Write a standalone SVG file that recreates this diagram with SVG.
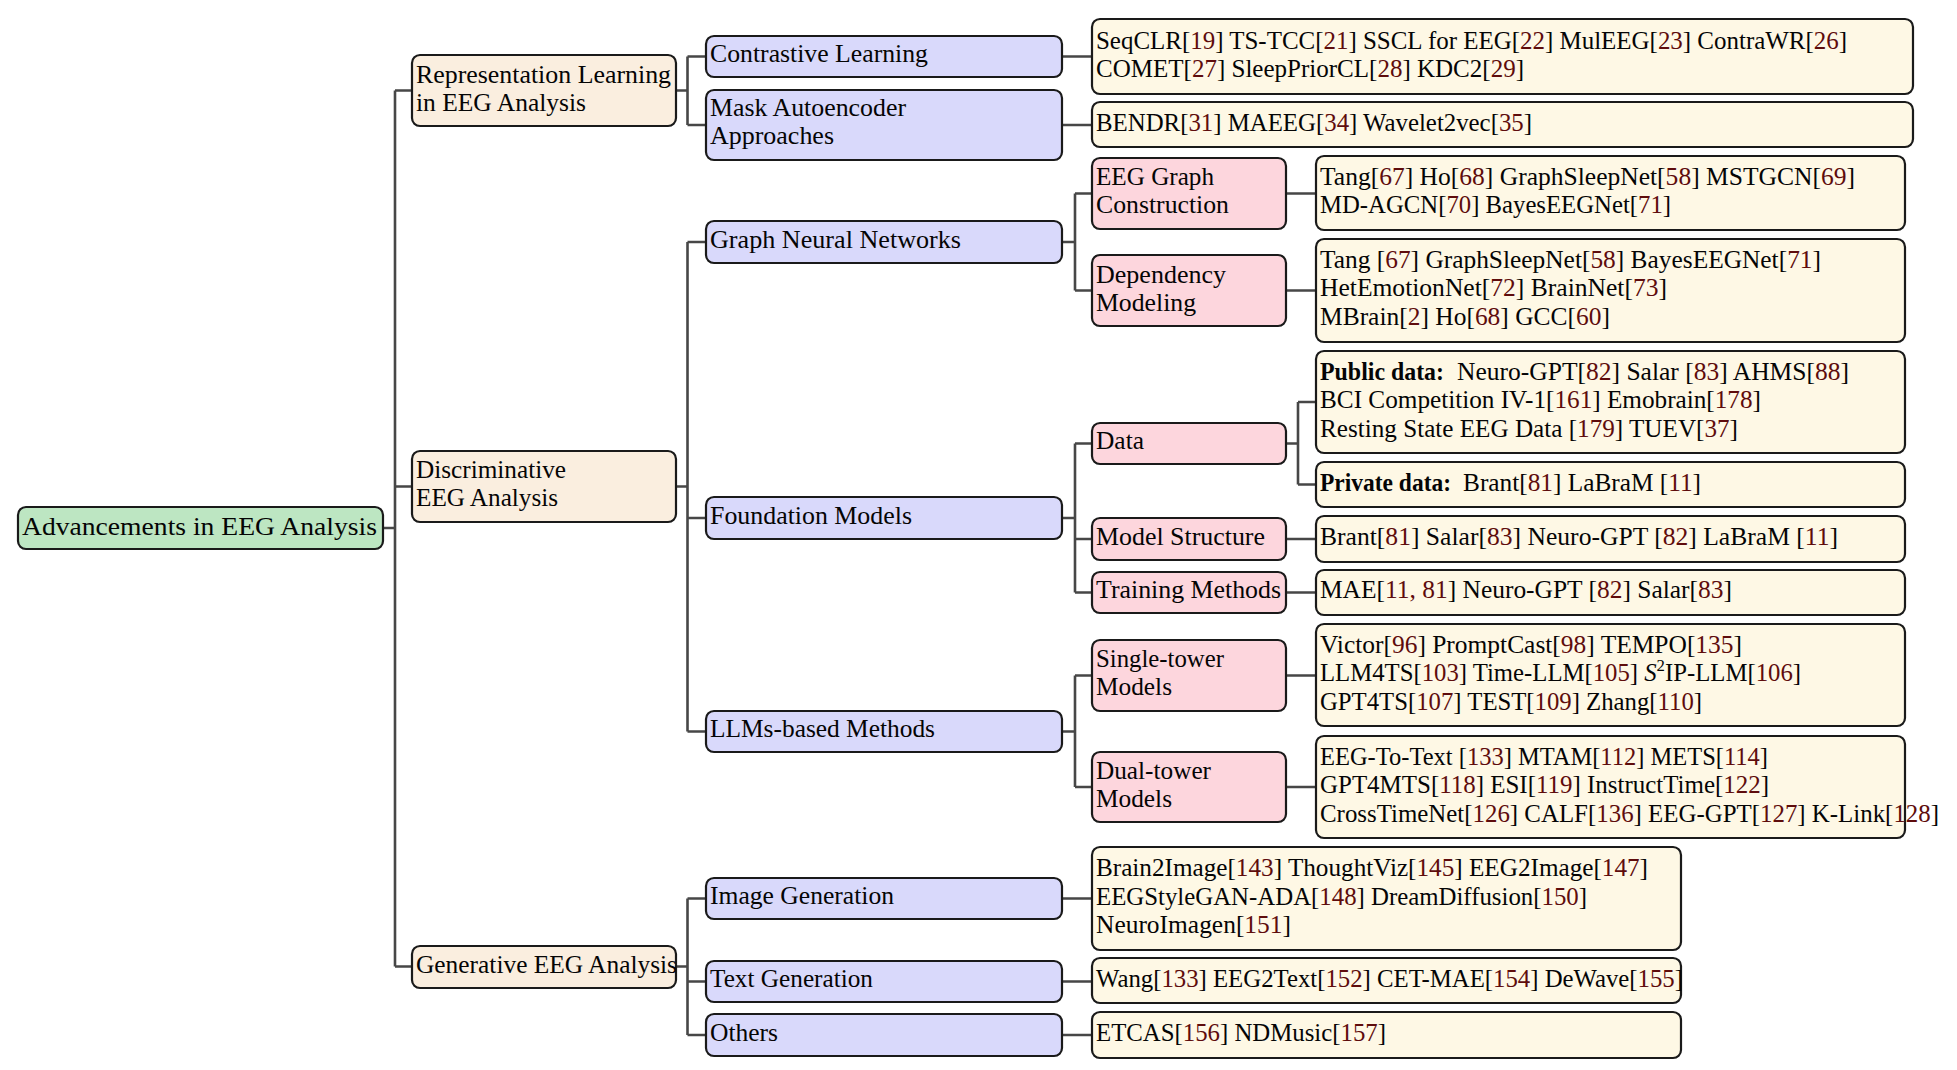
<svg xmlns="http://www.w3.org/2000/svg" width="1957" height="1070" viewBox="0 0 1957 1070">
<style>
.t{font-family:"Liberation Serif","Times New Roman",serif;font-size:25px;fill:#050505}
.c{fill:#5e0c0c}
.b{font-weight:bold}
.box{stroke:#1a1a1a;stroke-width:2.2}
.root{fill:#bde6c2}
.l1{fill:#faeedf}
.l2{fill:#d9d9fb}
.l3{fill:#fdd6dd}
.lf{fill:#fef8e5}
.con{fill:none;stroke:#474747;stroke-width:2.6}
</style>
<rect width="1957" height="1070" fill="#fff"/>
<g id="connectors" class="con">
<path d="M383,528H395M395,90.5V966.5M395,90.5H412M395,486.5H412M395,966.5H412"/>
<path d="M676,90.5H687.5M687.5,56.5V125M687.5,56.5H706M687.5,125H706"/>
<path d="M676,486.5H687.5M687.5,242V731.5M687.5,242H706M687.5,518H706M687.5,731.5H706"/>
<path d="M676,966.5H687.5M687.5,898.5V1035M687.5,898.5H706M687.5,981.5H706M687.5,1035H706"/>
<path d="M1062,56.5H1092M1062,125H1092"/>
<path d="M1062,242H1075M1075,193.5V290.5M1075,193.5H1092M1075,290.5H1092"/>
<path d="M1062,518H1075M1075,443.5V592.5M1075,443.5H1092M1075,539H1092M1075,592.5H1092"/>
<path d="M1062,731.5H1075M1075,675.5V787M1075,675.5H1092M1075,787H1092"/>
<path d="M1062,898.5H1092M1062,981.5H1092M1062,1035H1092"/>
<path d="M1286,193.5H1316M1286,290.5H1316"/>
<path d="M1286,443.5H1298M1298,402V484.5M1298,402H1316M1298,484.5H1316"/>
<path d="M1286,539H1316M1286,592.5H1316M1286,675.5H1316M1286,787H1316"/>
</g>

<g id="root">
<rect class="box root" x="18" y="507" width="365" height="42" rx="8"/>
<text class="t" x="22" y="535" font-size="27" textLength="355" lengthAdjust="spacingAndGlyphs">Advancements in EEG Analysis</text>
</g>

<g id="rep-learning">
<rect class="box l1" x="412" y="55" width="264" height="71" rx="8"/>
<text class="t" x="416" y="82.5" textLength="255" lengthAdjust="spacingAndGlyphs">Representation Learning</text>
<text class="t" x="416" y="110.5" textLength="170" lengthAdjust="spacingAndGlyphs">in EEG Analysis</text>
</g>
<g id="discriminative">
<rect class="box l1" x="412" y="451" width="264" height="71" rx="8"/>
<text class="t" x="416" y="478" textLength="150" lengthAdjust="spacingAndGlyphs">Discriminative</text>
<text class="t" x="416" y="506" textLength="142" lengthAdjust="spacingAndGlyphs">EEG Analysis</text>
</g>
<g id="generative">
<rect class="box l1" x="412" y="946" width="264" height="42" rx="8"/>
<text class="t" x="416" y="972.5" textLength="261" lengthAdjust="spacingAndGlyphs">Generative EEG Analysis</text>
</g>

<g id="contrastive">
<rect class="box l2" x="706" y="36" width="356" height="41" rx="8"/>
<text class="t" x="710" y="62" textLength="218" lengthAdjust="spacingAndGlyphs">Contrastive Learning</text>
</g>
<g id="mae">
<rect class="box l2" x="706" y="90" width="356" height="70" rx="8"/>
<text class="t" x="710" y="116" textLength="196" lengthAdjust="spacingAndGlyphs">Mask Autoencoder</text>
<text class="t" x="710" y="144" textLength="124" lengthAdjust="spacingAndGlyphs">Approaches</text>
</g>
<g id="gnn">
<rect class="box l2" x="706" y="221" width="356" height="42" rx="8"/>
<text class="t" x="710" y="248" textLength="251" lengthAdjust="spacingAndGlyphs">Graph Neural Networks</text>
</g>
<g id="foundation">
<rect class="box l2" x="706" y="497" width="356" height="42" rx="8"/>
<text class="t" x="710" y="523.5" textLength="202" lengthAdjust="spacingAndGlyphs">Foundation Models</text>
</g>
<g id="llm">
<rect class="box l2" x="706" y="711" width="356" height="41" rx="8"/>
<text class="t" x="710" y="737" textLength="225" lengthAdjust="spacingAndGlyphs">LLMs-based Methods</text>
</g>
<g id="image-gen">
<rect class="box l2" x="706" y="878" width="356" height="41" rx="8"/>
<text class="t" x="710" y="904" textLength="184" lengthAdjust="spacingAndGlyphs">Image Generation</text>
</g>
<g id="text-gen">
<rect class="box l2" x="706" y="961" width="356" height="41" rx="8"/>
<text class="t" x="710" y="987" textLength="163" lengthAdjust="spacingAndGlyphs">Text Generation</text>
</g>
<g id="others">
<rect class="box l2" x="706" y="1014" width="356" height="42" rx="8"/>
<text class="t" x="710" y="1041" textLength="68" lengthAdjust="spacingAndGlyphs">Others</text>
</g>

<g id="eeg-graph">
<rect class="box l3" x="1092" y="158" width="194" height="71" rx="8"/>
<text class="t" x="1096" y="185" textLength="118" lengthAdjust="spacingAndGlyphs">EEG Graph</text>
<text class="t" x="1096" y="213" textLength="133" lengthAdjust="spacingAndGlyphs">Construction</text>
</g>
<g id="dependency">
<rect class="box l3" x="1092" y="255" width="194" height="71" rx="8"/>
<text class="t" x="1096" y="282.5" textLength="130" lengthAdjust="spacingAndGlyphs">Dependency</text>
<text class="t" x="1096" y="310.5" textLength="100" lengthAdjust="spacingAndGlyphs">Modeling</text>
</g>
<g id="data">
<rect class="box l3" x="1092" y="423" width="194" height="41" rx="8"/>
<text class="t" x="1096" y="449" textLength="48" lengthAdjust="spacingAndGlyphs">Data</text>
</g>
<g id="model-structure">
<rect class="box l3" x="1092" y="518" width="194" height="42" rx="8"/>
<text class="t" x="1096" y="544.5" textLength="169" lengthAdjust="spacingAndGlyphs">Model Structure</text>
</g>
<g id="training">
<rect class="box l3" x="1092" y="572" width="194" height="41" rx="8"/>
<text class="t" x="1096" y="598" textLength="185" lengthAdjust="spacingAndGlyphs">Training Methods</text>
</g>
<g id="single-tower">
<rect class="box l3" x="1092" y="640" width="194" height="71" rx="8"/>
<text class="t" x="1096" y="667" textLength="128" lengthAdjust="spacingAndGlyphs">Single-tower</text>
<text class="t" x="1096" y="695" textLength="76" lengthAdjust="spacingAndGlyphs">Models</text>
</g>
<g id="dual-tower">
<rect class="box l3" x="1092" y="752" width="194" height="70" rx="8"/>
<text class="t" x="1096" y="778.5" textLength="115" lengthAdjust="spacingAndGlyphs">Dual-tower</text>
<text class="t" x="1096" y="806.5" textLength="76" lengthAdjust="spacingAndGlyphs">Models</text>
</g>

<g id="leaf-contrastive">
<rect class="box lf" x="1092" y="19" width="821" height="75" rx="8"/>
<text class="t" x="1096" y="48.5" textLength="751" lengthAdjust="spacingAndGlyphs">SeqCLR[<tspan class="c">19</tspan>] TS-TCC[<tspan class="c">21</tspan>] SSCL for EEG[<tspan class="c">22</tspan>] MulEEG[<tspan class="c">23</tspan>] ContraWR[<tspan class="c">26</tspan>]</text>
<text class="t" x="1096" y="76.5" textLength="428" lengthAdjust="spacingAndGlyphs">COMET[<tspan class="c">27</tspan>] SleepPriorCL[<tspan class="c">28</tspan>] KDC2[<tspan class="c">29</tspan>]</text>
</g>
<g id="leaf-mae">
<rect class="box lf" x="1092" y="102" width="821" height="45" rx="8"/>
<text class="t" x="1096" y="130.5" textLength="436" lengthAdjust="spacingAndGlyphs">BENDR[<tspan class="c">31</tspan>] MAEEG[<tspan class="c">34</tspan>] Wavelet2vec[<tspan class="c">35</tspan>]</text>
</g>
<g id="leaf-eeg-graph">
<rect class="box lf" x="1316" y="156" width="589" height="74" rx="8"/>
<text class="t" x="1320" y="185" textLength="535" lengthAdjust="spacingAndGlyphs">Tang[<tspan class="c">67</tspan>] Ho[<tspan class="c">68</tspan>] GraphSleepNet[<tspan class="c">58</tspan>] MSTGCN[<tspan class="c">69</tspan>]</text>
<text class="t" x="1320" y="213" textLength="351" lengthAdjust="spacingAndGlyphs">MD-AGCN[<tspan class="c">70</tspan>] BayesEEGNet[<tspan class="c">71</tspan>]</text>
</g>
<g id="leaf-dependency">
<rect class="box lf" x="1316" y="239" width="589" height="103" rx="8"/>
<text class="t" x="1320" y="267.5" textLength="501" lengthAdjust="spacingAndGlyphs">Tang [<tspan class="c">67</tspan>] GraphSleepNet[<tspan class="c">58</tspan>] BayesEEGNet[<tspan class="c">71</tspan>]</text>
<text class="t" x="1320" y="296" textLength="347" lengthAdjust="spacingAndGlyphs">HetEmotionNet[<tspan class="c">72</tspan>] BrainNet[<tspan class="c">73</tspan>]</text>
<text class="t" x="1320" y="324.5" textLength="290" lengthAdjust="spacingAndGlyphs">MBrain[<tspan class="c">2</tspan>] Ho[<tspan class="c">68</tspan>] GCC[<tspan class="c">60</tspan>]</text>
</g>
<g id="leaf-public-data">
<rect class="box lf" x="1316" y="351" width="589" height="102" rx="8"/>
<text class="t b" x="1320" y="379.5" textLength="124" lengthAdjust="spacingAndGlyphs">Public data:</text>
<text class="t" x="1457" y="379.5" textLength="392" lengthAdjust="spacingAndGlyphs">Neuro-GPT[<tspan class="c">82</tspan>] Salar [<tspan class="c">83</tspan>] AHMS[<tspan class="c">88</tspan>]</text>
<text class="t" x="1320" y="408" textLength="441" lengthAdjust="spacingAndGlyphs">BCI Competition IV-1[<tspan class="c">161</tspan>] Emobrain[<tspan class="c">178</tspan>]</text>
<text class="t" x="1320" y="436.5" textLength="418" lengthAdjust="spacingAndGlyphs">Resting State EEG Data [<tspan class="c">179</tspan>] TUEV[<tspan class="c">37</tspan>]</text>
</g>
<g id="leaf-private-data">
<rect class="box lf" x="1316" y="462" width="589" height="45" rx="8"/>
<text class="t b" x="1320" y="491" textLength="131" lengthAdjust="spacingAndGlyphs">Private data:</text>
<text class="t" x="1463" y="491" textLength="238" lengthAdjust="spacingAndGlyphs">Brant[<tspan class="c">81</tspan>] LaBraM [<tspan class="c">11</tspan>]</text>
</g>
<g id="leaf-model-structure">
<rect class="box lf" x="1316" y="516" width="589" height="46" rx="8"/>
<text class="t" x="1320" y="544.5" textLength="518" lengthAdjust="spacingAndGlyphs">Brant[<tspan class="c">81</tspan>] Salar[<tspan class="c">83</tspan>] Neuro-GPT [<tspan class="c">82</tspan>] LaBraM [<tspan class="c">11</tspan>]</text>
</g>
<g id="leaf-training">
<rect class="box lf" x="1316" y="570" width="589" height="45" rx="8"/>
<text class="t" x="1320" y="598" textLength="412" lengthAdjust="spacingAndGlyphs">MAE[<tspan class="c">11, 81</tspan>] Neuro-GPT [<tspan class="c">82</tspan>] Salar[<tspan class="c">83</tspan>]</text>
</g>
<g id="leaf-single-tower">
<rect class="box lf" x="1316" y="624" width="589" height="102" rx="8"/>
<text class="t" x="1320" y="652.5" textLength="422" lengthAdjust="spacingAndGlyphs">Victor[<tspan class="c">96</tspan>] PromptCast[<tspan class="c">98</tspan>] TEMPO[<tspan class="c">135</tspan>]</text>
<text class="t" x="1320" y="681" textLength="481" lengthAdjust="spacingAndGlyphs">LLM4TS[<tspan class="c">103</tspan>] Time-LLM[<tspan class="c">105</tspan>] <tspan font-style="italic">S</tspan><tspan font-size="17" dy="-10">2</tspan><tspan dy="10">IP-LLM[</tspan><tspan class="c">106</tspan>]</text>
<text class="t" x="1320" y="709.5" textLength="382" lengthAdjust="spacingAndGlyphs">GPT4TS[<tspan class="c">107</tspan>] TEST[<tspan class="c">109</tspan>] Zhang[<tspan class="c">110</tspan>]</text>
</g>
<g id="leaf-dual-tower">
<rect class="box lf" x="1316" y="736" width="589" height="102" rx="8"/>
<text class="t" x="1320" y="764.5" textLength="448" lengthAdjust="spacingAndGlyphs">EEG-To-Text [<tspan class="c">133</tspan>] MTAM[<tspan class="c">112</tspan>] METS[<tspan class="c">114</tspan>]</text>
<text class="t" x="1320" y="793" textLength="449" lengthAdjust="spacingAndGlyphs">GPT4MTS[<tspan class="c">118</tspan>] ESI[<tspan class="c">119</tspan>] InstructTime[<tspan class="c">122</tspan>]</text>
<text class="t" x="1320" y="821.5" textLength="619" lengthAdjust="spacingAndGlyphs">CrossTimeNet[<tspan class="c">126</tspan>] CALF[<tspan class="c">136</tspan>] EEG-GPT[<tspan class="c">127</tspan>] K-Link[<tspan class="c">128</tspan>]</text>
</g>
<g id="leaf-image-gen">
<rect class="box lf" x="1092" y="847" width="589" height="103" rx="8"/>
<text class="t" x="1096" y="876" textLength="552" lengthAdjust="spacingAndGlyphs">Brain2Image[<tspan class="c">143</tspan>] ThoughtViz[<tspan class="c">145</tspan>] EEG2Image[<tspan class="c">147</tspan>]</text>
<text class="t" x="1096" y="904.5" textLength="491" lengthAdjust="spacingAndGlyphs">EEGStyleGAN-ADA[<tspan class="c">148</tspan>] DreamDiffusion[<tspan class="c">150</tspan>]</text>
<text class="t" x="1096" y="933" textLength="195" lengthAdjust="spacingAndGlyphs">NeuroImagen[<tspan class="c">151</tspan>]</text>
</g>
<g id="leaf-text-gen">
<rect class="box lf" x="1092" y="958" width="589" height="45" rx="8"/>
<text class="t" x="1096" y="986.5" textLength="587" lengthAdjust="spacingAndGlyphs">Wang[<tspan class="c">133</tspan>] EEG2Text[<tspan class="c">152</tspan>] CET-MAE[<tspan class="c">154</tspan>] DeWave[<tspan class="c">155</tspan>]</text>
</g>
<g id="leaf-others">
<rect class="box lf" x="1092" y="1012" width="589" height="46" rx="8"/>
<text class="t" x="1096" y="1041" textLength="290" lengthAdjust="spacingAndGlyphs">ETCAS[<tspan class="c">156</tspan>] NDMusic[<tspan class="c">157</tspan>]</text>
</g>
</svg>
